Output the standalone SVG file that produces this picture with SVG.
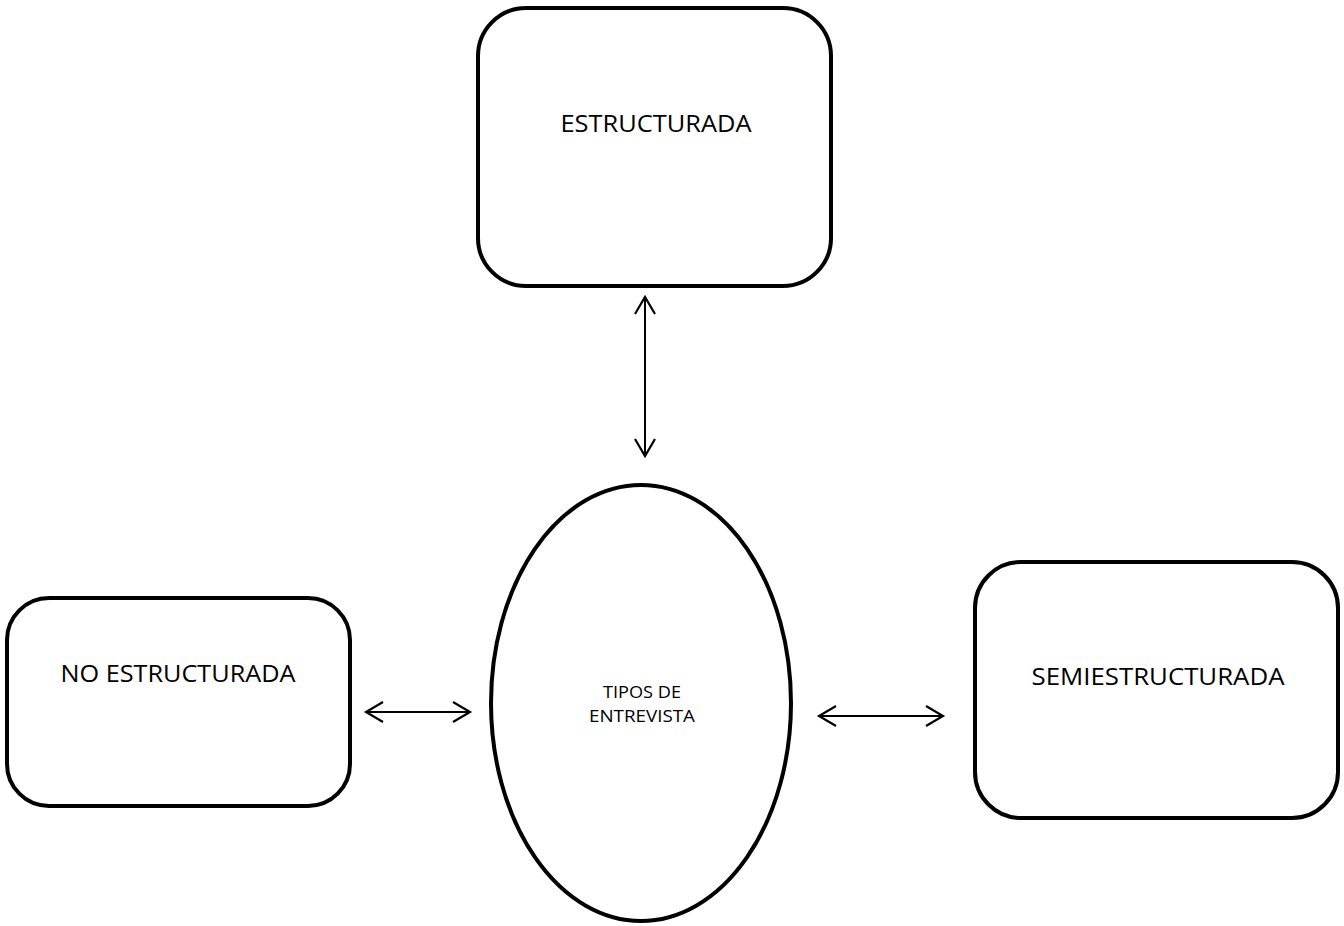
<svg xmlns="http://www.w3.org/2000/svg" width="1344" height="926" viewBox="0 0 1344 926">
  <style>
    .box { fill: #ffffff; stroke: #000000; stroke-width: 4; }
    .lbl { font-family: "Open Sans", "Liberation Sans", sans-serif; fill: #000000; text-anchor: middle; }
    .big { font-size: 23px; }
    .small { font-size: 16px; }
    .link { fill: none; stroke: #000000; stroke-width: 2; marker-start: url(#head); marker-end: url(#head); }
  </style>
  <defs>
    <marker id="head" markerUnits="userSpaceOnUse" viewBox="-20 -12 24 24" refX="0" refY="0" markerWidth="24" markerHeight="24" orient="auto-start-reverse">
      <path d="M-17,-10 L0,0 L-17,10" fill="none" stroke="#000000" stroke-width="2.2" stroke-linejoin="miter"/>
    </marker>
  </defs>
  <rect width="1344" height="926" fill="#ffffff"/>

  <g id="connectors">
    <path class="link" d="M645,297 L645,456"/>
    <path class="link" d="M366,712 L470,712"/>
    <path class="link" d="M819,716 L943,716"/>
  </g>

  <g id="estructurada">
    <rect class="box" x="478" y="8" width="353" height="278" rx="48" ry="48"/>
    <text class="lbl big" x="656" y="132" textLength="191" lengthAdjust="spacingAndGlyphs">ESTRUCTURADA</text>
  </g>

  <g id="no-estructurada">
    <rect class="box" x="7" y="598" width="343" height="208" rx="42" ry="42"/>
    <text class="lbl big" x="178" y="682" textLength="235" lengthAdjust="spacingAndGlyphs">NO ESTRUCTURADA</text>
  </g>

  <g id="semiestructurada">
    <rect class="box" x="975" y="562" width="363" height="256" rx="46" ry="46"/>
    <text class="lbl big" x="1158" y="685" textLength="253" lengthAdjust="spacingAndGlyphs">SEMIESTRUCTURADA</text>
  </g>

  <g id="tipos-de-entrevista">
    <ellipse class="box" cx="641" cy="703" rx="150" ry="218"/>
    <text class="lbl small" x="642" y="698" textLength="78" lengthAdjust="spacingAndGlyphs">TIPOS DE</text>
    <text class="lbl small" x="642" y="722" textLength="106" lengthAdjust="spacingAndGlyphs">ENTREVISTA</text>
  </g>
</svg>
